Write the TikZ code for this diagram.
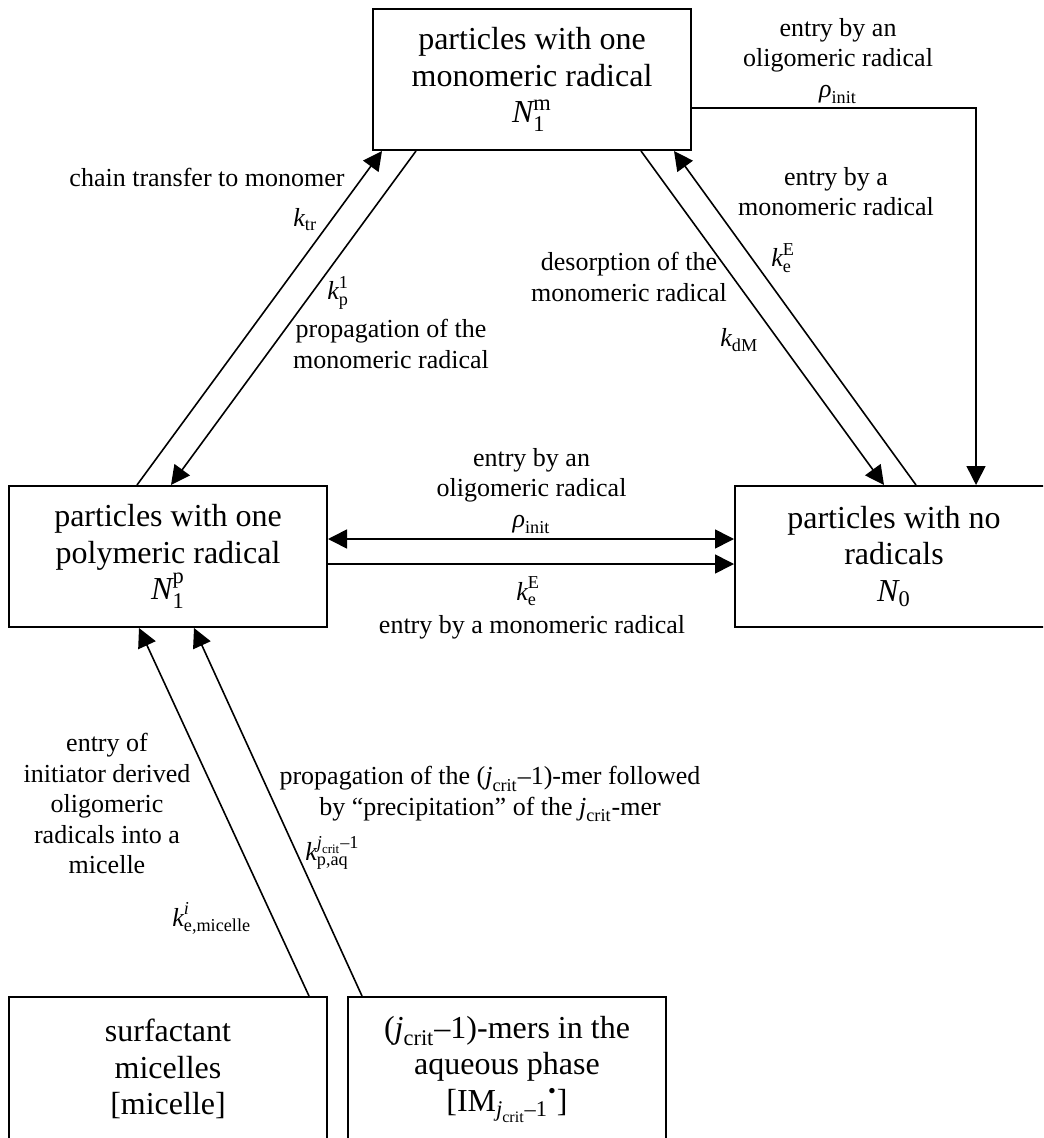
\documentclass[tikz,border=0pt]{standalone}
\usepackage{amsmath}
\usepackage{fontspec}
\setmainfont{Liberation Serif}
\usetikzlibrary{arrows.meta}
\newcommand{\kk}{\textit{k}}
\newcommand{\jcrit}{\ensuremath{\textit{j}_\text{crit}}}
\newcommand{\rhoinit}{\ensuremath{\textit{ρ}_\text{init}}}
\tikzset{
	state/.style={draw, line width=1pt, minimum width=159pt, minimum height=70.5pt, inner sep=0pt, align=center, font=\fontsize{16}{18.25}\selectfont},
	lbl/.style={inner sep=0pt, align=center, font=\fontsize{13}{15.25}\selectfont}
}

\begin{document}
\begin{tikzpicture}[x=0.5pt, y=-0.5pt, >={Triangle[length=9.5pt,width=9.5pt]}]
			\clip (0,0) rectangle (1043,1138);
			\useasboundingbox (0,0) rectangle (1043,1138);
			\node[state] (mono) at (532,79.5) {particles with one\\monomeric radical\\$\textit{N}_\text{1}^\text{m}$};
			\node[state] (poly) at (168,556.5) {particles with one\\polymeric radical\\$\textit{N}_\text{1}^\text{p}$};
			\node[state] (none) at (894,556.5) {particles with no\\radicals\\$\textit{N}_\text{0}$};
			\node[state, minimum height=72pt] (mic) at (168,1069) {surfactant\\micelles\\{[}micelle{]}};
			\node[state, minimum height=72pt] (aq) at (507,1069) {(\jcrit–1)-mers in the\\aqueous phase\\{[}IM$_{\jcrit\text{–1}}{}^{\text{•}}${]}};
			\path[->, line width=0.8pt]
			([shift={(129,0)}]poly.north west) edge ([shift={(10,0)}]mono.south west)
			([shift={(44,0)}]mono.south west) edge ([shift={(163,0)}]poly.north west)
			([shift={(-51,0)}]mono.south east) edge ([shift={(150,0)}]none.north west)
			([shift={(182,0)}]none.north west) edge ([shift={(-18,0)}]mono.south east)
			([shift={(0,-17.5)}]poly.east) edge[<->] ([shift={(0,-17.5)}]none.west)
			([shift={(0,7.5)}]poly.east) edge ([shift={(0,7.5)}]none.west)
			([shift={(301,0)}]mic.north west) edge ([shift={(131,0)}]poly.south west)
			([shift={(15,0)}]aq.north west) edge ([shift={(186,0)}]poly.south west);
			\draw[->, line width=0.8pt] ([shift={(0,28.5)}]mono.east) -| ([shift={(242,0)}]none.north west);
			\node[lbl, anchor=north] (oligo-top) at (838,18) {entry by an\\oligomeric radical\\\rhoinit};
			\node[lbl, anchor=north] (mono-entry) at (836,167) {entry by a\\monomeric radical};
			\node[lbl, anchor=base west] (ke-right) at (771,267) {$\kk_\text{e}^\text{E}$};
			\node[lbl, anchor=north] (desorp) at (629,252) {desorption of the\\monomeric radical};
			\node[lbl, anchor=base west] (kdm) at (720,347) {$\kk_\text{dM}$};
			\node[lbl, anchor=base] (transfer) at (207,187) {chain transfer to monomer};
			\node[lbl, anchor=base west] (ktr) at (293,227) {$\kk_\text{tr}$};
			\node[lbl, anchor=base west] (kp) at (327,300) {$\kk_\text{p}^\text{1}$};
			\node[lbl, anchor=north] (propag) at (391,319) {propagation of the\\monomeric radical};
			\node[lbl, anchor=north] (oligo-mid) at (531.5,448) {entry by an\\oligomeric radical\\\rhoinit};
			\node[lbl, anchor=base west] (ke-mid) at (516,600) {$\kk_\text{e}^\text{E}$};
			\node[lbl, anchor=base] (mono-mid) at (532,633) {entry by a monomeric radical};
			\node[lbl, anchor=north] (initiator) at (107,733) {entry of\\initiator derived\\oligomeric\\radicals into a\\micelle};
			\node[lbl, anchor=base west] (kmic) at (172,926) {$\kk_\text{e,micelle}^\textit{i}$};
			\node[lbl, anchor=north] (precip) at (490,766) {propagation of the (\jcrit–1)-mer followed\\by ``precipitation'' of the \jcrit-mer};
			\node[lbl, anchor=base west] (kaq) at (305,860) {$\kk_\text{p,aq}^{\jcrit\text{–1}}$};
		\end{tikzpicture}
\end{document}
